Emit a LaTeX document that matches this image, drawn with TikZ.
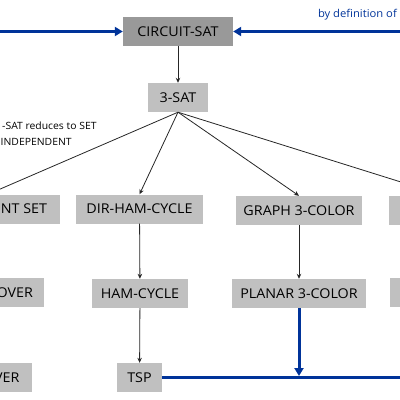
\documentclass[tikz,border=0pt]{standalone}
\usepackage{fontspec}
\setmainfont{Open Sans}
\newfontfamily\boxfont[FakeStretch=1.06]{Open Sans}
\newfontfamily\notefont[FakeStretch=1.04]{Open Sans}
\usetikzlibrary{arrows.meta}
\definecolor{darkbox}{HTML}{999999}
\definecolor{lightbox}{HTML}{C0C0C0}
\definecolor{navy}{HTML}{003399}
\tikzset{
  box/.style={rectangle, fill=lightbox, minimum height=29pt, inner sep=0pt, text=black,
    font=\boxfont\fontsize{13.5}{15}\selectfont},
  darkbx/.style={box, fill=darkbox},
  edgetext/.style={anchor=east, inner sep=0pt, text=black, font=\boxfont\fontsize{13.5}{15}\selectfont},
  conn/.style={draw=black!85, line width=0.8pt, -{Stealth[length=5pt,width=4.5pt]}},
  bluearrow/.style={draw=navy, line width=3pt, -{Triangle[length=8pt,width=9pt]}},
  blueline/.style={draw=navy, line width=3pt},
  note/.style={inner sep=0pt, font=\notefont\fontsize{10}{12}\selectfont},
}
\begin{document}
\begin{tikzpicture}[x=1pt,y=-1pt]
\useasboundingbox (0,0) rectangle (400,400);
\clip (0,0) rectangle (400,400);
% nodes
\node[darkbx, minimum width=110pt] (cs) at (178,31.5) {CIRCUIT-SAT};
\node[box, minimum width=60pt] (sat) at (178,97.5) {3-SAT};
\node[box, minimum width=144pt, label={[edgetext, xshift=-13pt]east:NT SET}] (is) at (-12,209) {};
\node[box, minimum width=127pt] (dir) at (139.5,209) {DIR-HAM-CYCLE};
\node[box, minimum width=126pt] (g3) at (299,210.5) {GRAPH 3-COLOR};
\node[box, minimum width=112pt] (ss) at (445,210.5) {};
\node[box, minimum width=130pt, label={[edgetext, xshift=-11pt]east:OVER}] (vc) at (-21,292.5) {};
\node[box, minimum width=96pt] (ham) at (140,293.5) {HAM-CYCLE};
\node[box, minimum width=134pt] (p3) at (299,293.5) {PLANAR 3-COLOR};
\node[box, minimum width=112pt] (sch) at (446,292.5) {};
\node[box, minimum width=100pt, label={[edgetext, xshift=-12.5pt]east:VER}] (sc) at (-18,377.5) {};
\node[box, minimum width=45pt] (tsp) at (139.5,377.5) {TSP};
% texts
\node[note, anchor=east, text=navy, font=\notefont\fontsize{10.8}{12}\selectfont] (def) at (397,15) {by definition of};
\node[note, anchor=west] (red1) at (2,126) {-SAT reduces to SET};
\node[note, anchor=west] (red2) at (0.5,142) {INDEPENDENT};
% black connectors
\draw[conn] (cs) -- (sat);
\draw[conn] (sat.south) -- (is.north);
\draw[conn] (sat.south) -- (dir.north);
\draw[conn] (sat.south) -- (g3.north);
\draw[conn] (sat.south) -- (ss.north);
\draw[conn] (dir) -- (ham);
\draw[conn] (ham) -- (tsp);
\draw[conn] (g3) -- (p3);
% blue connectors
\coordinate (lin) at (0,31.5);
\coordinate (rin) at (400,31.5);
\coordinate (bend) at (400,377.5);
\coordinate (bj) at (299,376);
\draw[bluearrow] (lin) -- (cs.west);
\draw[bluearrow] (rin) -- (cs.east);
\draw[blueline] (tsp.east) -- (bend);
\draw[bluearrow] (p3.south) -- (bj);
\end{tikzpicture}
\end{document}
